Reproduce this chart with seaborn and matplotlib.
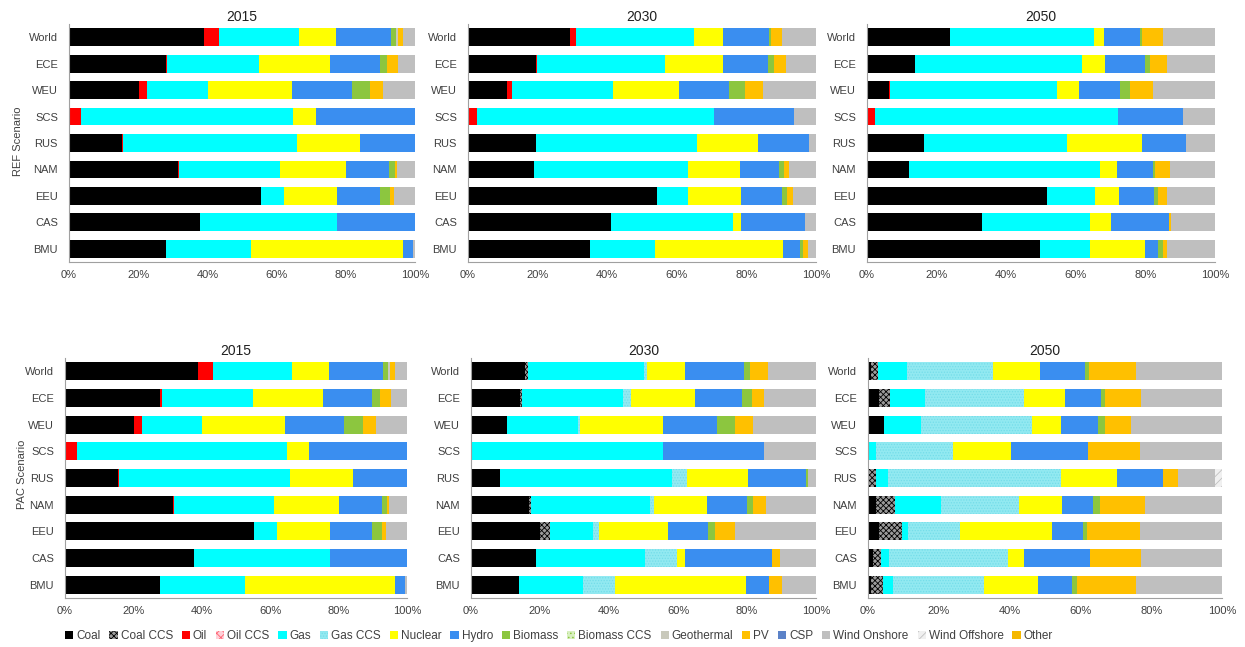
import numpy as np
import pandas as pd
import matplotlib
matplotlib.use("Agg")
import matplotlib.pyplot as plt
from matplotlib.patches import Patch
import seaborn as sns

# Regions (top to bottom) and generation technologies (stacking order)
regions = ["World", "ECE", "WEU", "SCS", "RUS", "NAM", "EEU", "CAS", "BMU"]
technologies = ["Coal", "Coal CCS", "Oil", "Oil CCS", "Gas", "Gas CCS", "Nuclear",
                "Hydro", "Biomass", "Biomass CCS", "Geothermal", "PV", "CSP",
                "Wind Onshore", "Wind Offshore", "Other"]

tech_colors = {
    "Coal": "#000000", "Coal CCS": "#9a9a9a", "Oil": "#ff0000", "Oil CCS": "#ffd0d8",
    "Gas": "#00ffff", "Gas CCS": "#92e9f1", "Nuclear": "#ffff00", "Hydro": "#3a8ef0",
    "Biomass": "#8cc63f", "Biomass CCS": "#d8f0c0", "Geothermal": "#c9c9bb",
    "PV": "#ffc000", "CSP": "#5b82c8", "Wind Onshore": "#bfbfbf",
    "Wind Offshore": "#f0f0f0", "Other": "#f5b800",
}
tech_hatch = {
    "Coal CCS": ("xxxxxx", "#000000"), "Oil CCS": ("xxxx", "#ff6070"),
    "Gas CCS": ("......", "#74dde9"), "Biomass CCS": ("....", "#8cc63f"),
    "Wind Offshore": ("////", "#c0c0c0"),
}

# Electricity generation shares (%) per region, REF scenario
ref_2015 = {
    "Coal":         [39.0, 27.9, 20.3, 0.0, 15.4, 31.5, 55.4, 37.8, 27.9],
    "Oil":          [4.3, 0.5, 2.1, 3.4, 0.3, 0.3, 0.0, 0.0, 0.0],
    "Gas":          [23.1, 26.6, 17.8, 61.4, 50.1, 29.2, 6.7, 39.7, 24.7],
    "Nuclear":      [10.7, 20.4, 24.2, 6.6, 18.3, 19.0, 15.4, 0.0, 44.0],
    "Hydro":        [15.9, 14.5, 17.3, 28.6, 15.9, 12.6, 12.4, 22.5, 2.9],
    "Biomass":      [1.5, 2.1, 5.3, 0.0, 0.0, 1.6, 2.9, 0.0, 0.0],
    "Geothermal":   [0.5, 0.0, 0.0, 0.0, 0.0, 0.0, 0.0, 0.0, 0.0],
    "PV":           [1.5, 3.2, 3.8, 0.0, 0.0, 0.6, 1.0, 0.0, 0.0],
    "Wind Onshore": [3.5, 4.8, 9.2, 0.0, 0.0, 5.2, 6.2, 0.0, 0.5],
}
ref_2030 = {
    "Coal":         [29.4, 19.4, 11.2, 0.0, 19.4, 19.0, 54.4, 41.1, 35.1],
    "Oil":          [1.6, 0.3, 1.4, 2.6, 0.0, 0.0, 0.0, 0.0, 0.0],
    "Gas":          [33.8, 36.9, 29.0, 68.1, 46.3, 44.3, 8.9, 35.0, 18.7],
    "Nuclear":      [8.4, 16.6, 18.9, 0.0, 17.7, 14.9, 15.2, 2.4, 36.8],
    "Hydro":        [13.3, 13.1, 14.5, 23.1, 14.6, 11.2, 11.8, 18.3, 4.8],
    "Biomass":      [0.5, 1.7, 4.6, 0.0, 0.0, 1.4, 1.3, 0.0, 0.8],
    "PV":           [3.1, 3.3, 5.3, 0.0, 0.0, 1.5, 1.9, 0.0, 1.6],
    "Wind Onshore": [9.9, 8.7, 15.1, 6.2, 2.0, 7.7, 6.5, 3.2, 2.2],
}
ref_2050 = {
    "Coal":         [23.9, 13.9, 6.2, 0.0, 16.3, 12.0, 51.7, 33.0, 49.8],
    "Oil":          [0.0, 0.0, 0.4, 2.2, 0.0, 0.0, 0.0, 0.0, 0.0],
    "Gas":          [41.2, 47.8, 47.9, 69.8, 41.1, 55.0, 13.9, 31.1, 14.3],
    "Nuclear":      [3.1, 6.7, 6.5, 0.0, 21.6, 4.8, 6.8, 6.0, 15.8],
    "Hydro":        [10.3, 11.5, 11.7, 18.9, 12.6, 10.5, 10.2, 16.8, 3.8],
    "Biomass":      [0.5, 1.4, 2.9, 0.0, 0.0, 0.5, 1.1, 0.0, 1.5],
    "PV":           [6.2, 4.8, 6.7, 0.0, 0.0, 4.3, 2.4, 0.5, 1.0],
    "Wind Onshore": [14.8, 13.9, 17.7, 9.1, 8.4, 12.9, 13.9, 12.6, 13.8],
}

# Electricity generation shares (%) per region, PAC scenario
pac_2015 = dict(ref_2015)
pac_2030 = {
    "Coal":         [15.7, 14.2, 10.3, 0.0, 8.4, 16.9, 20.0, 18.8, 14.0],
    "Coal CCS":     [0.8, 0.5, 0.0, 0.0, 0.0, 0.5, 2.9, 0.0, 0.0],
    "Gas":          [33.5, 29.5, 20.8, 55.7, 49.8, 34.5, 12.6, 31.6, 18.4],
    "Gas CCS":      [1.1, 2.1, 0.6, 0.0, 4.3, 1.0, 1.7, 9.2, 9.3],
    "Nuclear":      [10.9, 18.6, 24.0, 0.0, 17.9, 15.6, 20.0, 2.4, 37.9],
    "Hydro":        [17.2, 13.6, 15.7, 29.3, 16.7, 11.4, 11.6, 25.3, 6.9],
    "Biomass":      [1.7, 2.9, 5.1, 0.0, 0.7, 1.9, 1.9, 0.0, 0.0],
    "PV":           [5.3, 3.6, 5.3, 0.0, 0.0, 3.7, 5.8, 2.3, 3.5],
    "Wind Onshore": [13.8, 15.0, 18.2, 15.0, 2.2, 14.5, 23.5, 10.4, 10.0],
}
pac_2050 = {
    "Coal":          [0.8, 3.0, 4.5, 0.0, 0.0, 2.4, 3.0, 1.4, 0.9],
    "Coal CCS":      [2.0, 3.1, 0.0, 0.0, 2.4, 5.1, 6.6, 2.2, 3.3],
    "Gas":           [8.3, 9.9, 10.4, 2.4, 3.2, 13.0, 1.7, 2.2, 2.9],
    "Gas CCS":       [24.2, 28.1, 31.4, 21.6, 48.8, 22.1, 14.8, 33.7, 25.7],
    "Nuclear":       [13.4, 11.5, 8.1, 16.3, 15.8, 12.2, 26.0, 4.5, 15.2],
    "Hydro":         [12.5, 10.1, 10.6, 21.8, 13.1, 8.8, 8.6, 18.6, 9.7],
    "Biomass":       [1.1, 1.2, 1.9, 0.0, 0.0, 1.8, 1.3, 0.0, 1.4],
    "PV":            [13.5, 10.3, 7.5, 14.6, 4.3, 12.8, 14.7, 14.6, 16.7],
    "Wind Onshore":  [24.2, 22.8, 25.6, 23.3, 10.3, 21.8, 23.3, 22.8, 24.2],
    "Wind Offshore": [0.0, 0.0, 0.0, 0.0, 2.1, 0.0, 0.0, 0.0, 0.0],
}

years = ["2015", "2030", "2050"]
panels = [[ref_2015, ref_2030, ref_2050], [pac_2015, pac_2030, pac_2050]]
scenario_labels = ["REF Scenario", "PAC Scenario"]

sns.set_theme(style="white")
plt.rcParams["font.family"] = ["Liberation Sans", "DejaVu Sans"]
plt.rcParams["hatch.linewidth"] = 0.6

fig = plt.figure(figsize=(12.45, 6.47), dpi=100)
W, H = 1245, 647

# axes boxes in pixels: (left, right, top, bottom)
boxes = [
    [(69, 415, 24, 262), (468, 816, 24, 262), (867, 1215, 24, 262)],
    [(65, 407, 358, 598), (471, 816, 358, 598), (868, 1222, 358, 598)],
]

grey = "#404040"
for r in range(2):
    for c in range(3):
        l, rt, t, b = boxes[r][c]
        ax = fig.add_axes([l / W, 1 - b / H, (rt - l) / W, (b - t) / H])
        shares = pd.DataFrame({k: panels[r][c].get(k, [0.0] * len(regions))
                               for k in technologies}, index=regions)
        cum = shares.cumsum(axis=1)
        # draw cumulative totals from the outermost segment inward
        for tech in technologies[::-1]:
            if shares[tech].sum() == 0:
                continue
            hatch, hcol = tech_hatch.get(tech, (None, tech_colors[tech]))
            sns.barplot(x=cum[tech].values, y=regions, orient="h", ax=ax,
                        color=tech_colors[tech], saturation=1, width=0.67,
                        hatch=hatch, edgecolor=hcol, linewidth=0)
        ax.set_xlim(0, 100)
        ax.set_xticks(np.arange(0, 101, 20))
        ax.set_xticklabels([f"{v}%" for v in range(0, 101, 20)])
        ax.set_xlabel("")
        ax.set_ylabel("")
        ax.set_title(years[c], fontsize=10, color="#202020", pad=2)
        for side in ("top", "right"):
            ax.spines[side].set_visible(False)
        for side in ("left", "bottom"):
            ax.spines[side].set_color("#a0a0a0")
            ax.spines[side].set_linewidth(0.8)
        ax.tick_params(axis="x", length=0, pad=6, labelsize=8, colors=grey)
        ax.tick_params(axis="y", length=0, pad=8, labelsize=8, colors=grey)

fig.text(18 / W, 1 - 141 / H, scenario_labels[0], rotation=90, ha="center",
         va="center", fontsize=8, color=grey)
fig.text(22 / W, 1 - 474 / H, scenario_labels[1], rotation=90, ha="center",
         va="center", fontsize=8, color=grey)

handles = []
for tech in technologies:
    hatch, hcol = tech_hatch.get(tech, (None, tech_colors[tech]))
    handles.append(Patch(facecolor=tech_colors[tech], hatch=hatch,
                         edgecolor=hcol, linewidth=0, label=tech))
fig.legend(handles=handles, loc="center", bbox_to_anchor=(559 / W, 1 - 636 / H),
           ncol=16, frameon=False, fontsize=8.5, handlelength=0.7,
           handleheight=0.7, handletextpad=0.25, columnspacing=0.75,
           labelcolor=grey)

fig.savefig("out.png", dpi=100)
